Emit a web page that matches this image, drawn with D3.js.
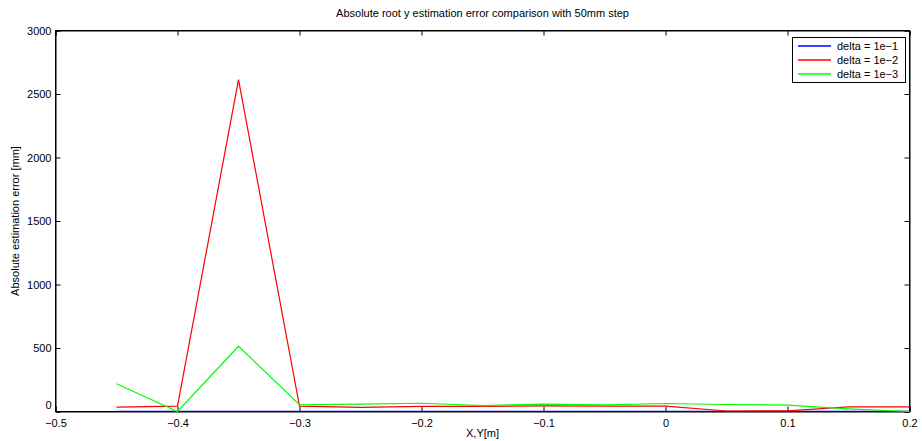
<!DOCTYPE html>
<html><head><meta charset="utf-8">
<script src="https://cdn.jsdelivr.net/npm/d3@7"></script>
<style>body{margin:0;background:#fff;} text{font-family:"Liberation Sans",Arial,sans-serif;}</style>
</head><body>
<svg id="c" width="922" height="441"></svg>
<script>
const xs = [-0.45,-0.4,-0.35,-0.3,-0.25,-0.2,-0.15,-0.1,-0.05,0,0.05,0.1,0.15,0.2];
const delta1 = [2,2,2,2,2,2,2,2,2,2,2,2,2,2];
const delta2 = [34,42,2614,42,32,40,40,45,42,42,4,5,37,37];
const delta3 = [218,0,514,53,58,65,47,58,52,63,55,50,20,0];
const seriesNames = ["delta = 1e\u22121","delta = 1e\u22122","delta = 1e\u22123"];
const seriesColors = ["#0000ff","#ff0000","#00ff00"];
const xTicks = [-0.5,-0.4,-0.3,-0.2,-0.1,0,0.1,0.2];
const yTicks = [0,500,1000,1500,2000,2500,3000];

const svg = d3.select("#c");
const L=55.5,R=909.5,T=30.5,B=411.5;
const x = d3.scaleLinear().domain([-0.5,0.2]).range([L,R]);
const y = d3.scaleLinear().domain([0,3000]).range([B,T]);

svg.append("rect").attr("x",L).attr("y",T).attr("width",R-L).attr("height",B-T).attr("fill","#fff");

const fmt = d=> d===0?"0":d3.format("")(d);
const gx = svg.append("g").attr("transform",`translate(0,${B})`)
  .call(d3.axisBottom(x).tickValues(xTicks).tickSize(-5).tickPadding(8).tickFormat(fmt));
const gxt = svg.append("g").attr("transform",`translate(0,${T})`)
  .call(d3.axisTop(x).tickValues(xTicks).tickSize(-5).tickFormat(""));
const gy = svg.append("g").attr("transform",`translate(${L},0)`)
  .call(d3.axisLeft(y).tickValues(yTicks).tickSize(-5).tickPadding(4).tickFormat(d3.format("d")));
const gyr = svg.append("g").attr("transform",`translate(${R},0)`)
  .call(d3.axisRight(y).tickValues(yTicks).tickSize(-5).tickFormat(""));
[gx,gxt,gy,gyr].forEach(g=>{
  g.select(".domain").attr("stroke","#000");
  g.selectAll("line").attr("stroke","#000");
  g.selectAll("text").attr("font-size",11).attr("fill","#000").attr("font-family","Liberation Sans, Arial, sans-serif");
});
gy.selectAll("text").attr("dy","0.32em");
gy.selectAll(".tick").filter(d=>d===0).select("text").attr("dy","-0.3em");

svg.append("rect").attr("x",L).attr("y",T).attr("width",R-L).attr("height",B-T)
  .attr("fill","none").attr("stroke","#000").attr("stroke-width",1);

const data = [delta1,delta2,delta3];
const line = d3.line().x((d,i)=>x(xs[i])).y(d=>y(d));
data.forEach((s,k)=>{
  svg.append("path").datum(s).attr("d",line).style("fill","none")
    .style("stroke",seriesColors[k]).style("stroke-width","1.2px");
});

svg.append("text").attr("x",(L+R)/2).attr("y",17).attr("text-anchor","middle")
  .attr("font-size",11).text("Absolute root y estimation error comparison with 50mm step");
svg.append("text").attr("x",(L+R)/2).attr("y",437).attr("text-anchor","middle")
  .attr("font-size",11).text("X,Y[m]");
svg.append("text").attr("transform",`translate(19,${(T+B)/2}) rotate(-90)`).attr("text-anchor","middle")
  .attr("font-size",11).text("Absolute estimation error [mm]");

// legend
const lg = svg.append("g");
lg.append("rect").attr("x",792.5).attr("y",37.5).attr("width",113).attr("height",45)
  .style("fill","#fff").style("stroke","#000").style("stroke-width","1px");
seriesNames.forEach((n,i)=>{
  const yy = 46+i*14;
  lg.append("path").attr("d",`M798,${yy}H831`)
    .style("stroke",seriesColors[i]).style("stroke-width","1.3px").style("fill","none");
  lg.append("text").attr("x",837).attr("y",yy).attr("dy","0.35em").attr("font-size",11).style("fill","#000").text(n);
});
</script>
</body></html>
